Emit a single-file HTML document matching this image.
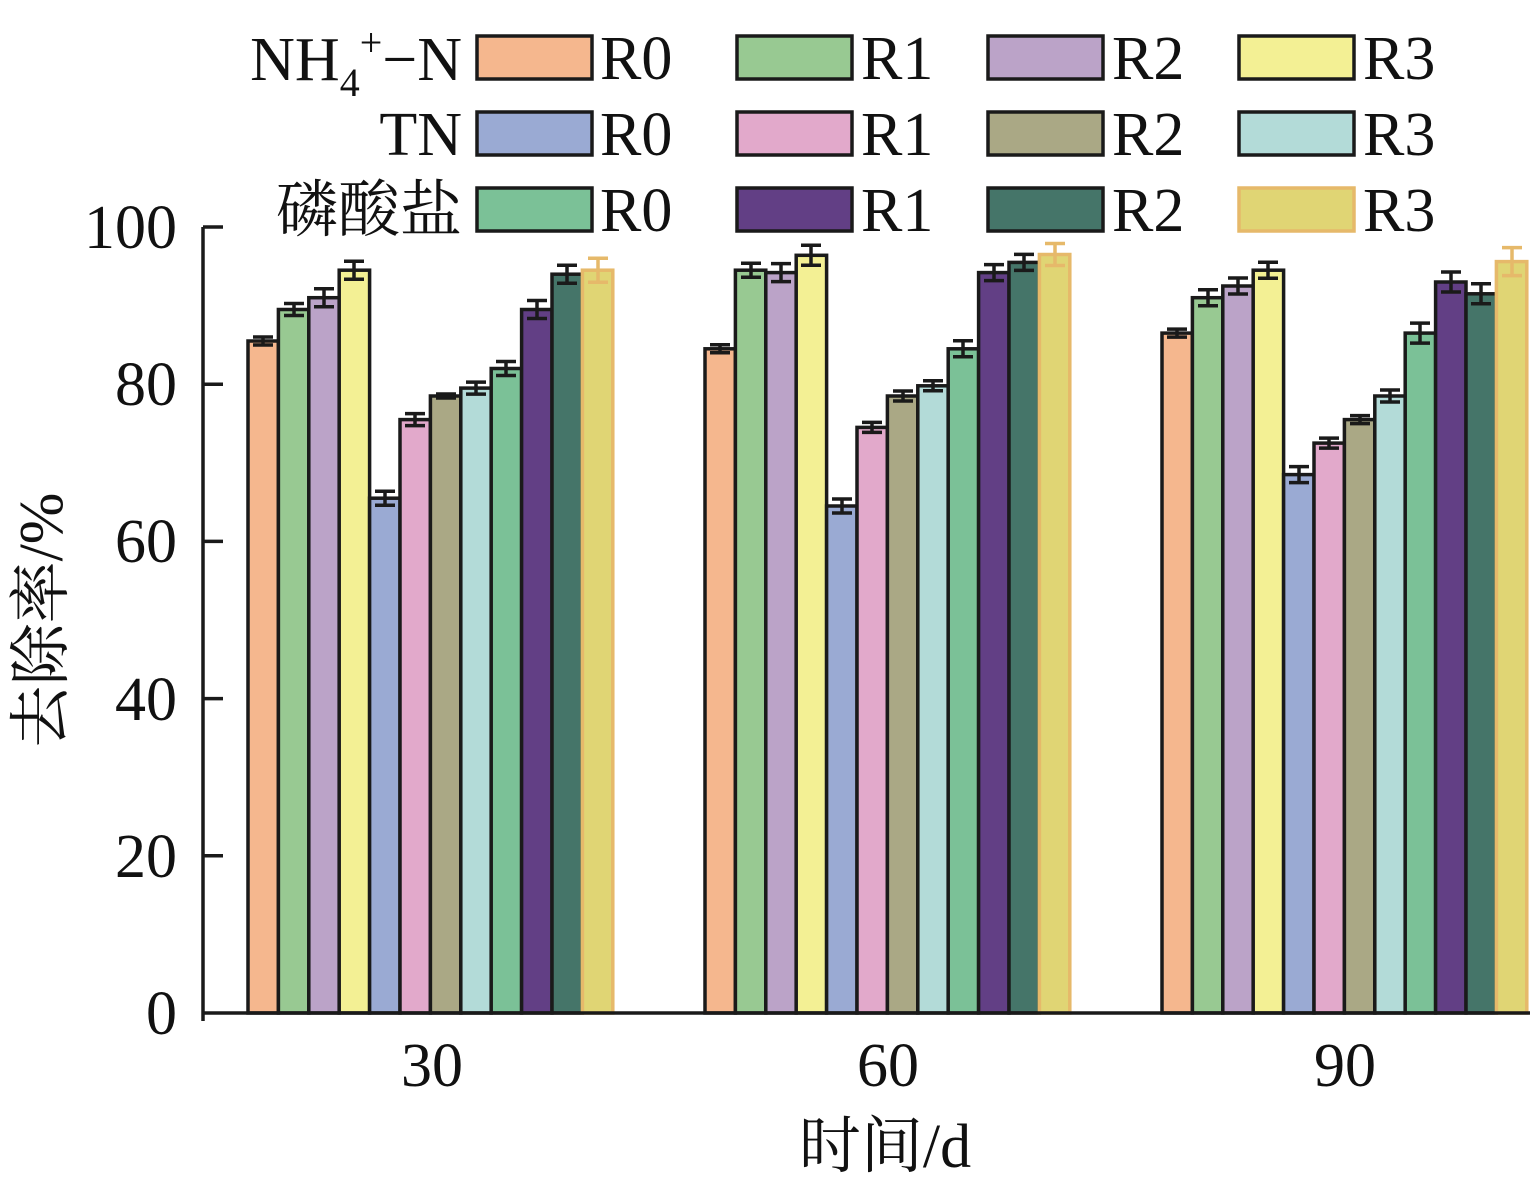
<!DOCTYPE html>
<html><head><meta charset="utf-8"><style>
html,body{margin:0;padding:0;background:#fff;}
svg text{font-family:"Liberation Serif","Noto Serif CJK SC",serif;fill:#111;}
</style></head><body>
<svg width="1530" height="1186" viewBox="0 0 1530 1186" xmlns="http://www.w3.org/2000/svg">
<g stroke="#1a1a1a" stroke-width="3.5">
<rect x="248" y="341" width="30.4" height="672" fill="#f5b78e"/>
<rect x="278.4" y="309.5" width="30.4" height="703.5" fill="#98c992"/>
<rect x="308.8" y="297.7" width="30.4" height="715.3" fill="#bba3c8"/>
<rect x="339.2" y="270.2" width="30.4" height="742.8" fill="#f3f094"/>
<rect x="369.6" y="498.2" width="30.4" height="514.8" fill="#9aaad3"/>
<rect x="400" y="419.6" width="30.4" height="593.4" fill="#e2a9cb"/>
<rect x="430.4" y="396" width="30.4" height="617" fill="#aaa885"/>
<rect x="460.8" y="388.1" width="30.4" height="624.9" fill="#b3dbd8"/>
<rect x="491.2" y="368.5" width="30.4" height="644.5" fill="#7bc197"/>
<rect x="521.6" y="309.5" width="30.4" height="703.5" fill="#623f85"/>
<rect x="552" y="274.2" width="30.4" height="738.8" fill="#457569"/>
<rect x="705" y="348.8" width="30.4" height="664.2" fill="#f5b78e"/>
<rect x="735.4" y="270.2" width="30.4" height="742.8" fill="#98c992"/>
<rect x="765.8" y="272.6" width="30.4" height="740.4" fill="#bba3c8"/>
<rect x="796.2" y="255.3" width="30.4" height="757.7" fill="#f3f094"/>
<rect x="826.6" y="506" width="30.4" height="507" fill="#9aaad3"/>
<rect x="857" y="427.4" width="30.4" height="585.6" fill="#e2a9cb"/>
<rect x="887.4" y="396" width="30.4" height="617" fill="#aaa885"/>
<rect x="917.8" y="385.8" width="30.4" height="627.2" fill="#b3dbd8"/>
<rect x="948.2" y="348.8" width="30.4" height="664.2" fill="#7bc197"/>
<rect x="978.6" y="272.6" width="30.4" height="740.4" fill="#623f85"/>
<rect x="1009" y="262.4" width="30.4" height="750.6" fill="#457569"/>
<rect x="1162" y="333.1" width="30.4" height="679.9" fill="#f5b78e"/>
<rect x="1192.4" y="297.7" width="30.4" height="715.3" fill="#98c992"/>
<rect x="1222.8" y="286" width="30.4" height="727" fill="#bba3c8"/>
<rect x="1253.2" y="270.2" width="30.4" height="742.8" fill="#f3f094"/>
<rect x="1283.6" y="474.6" width="30.4" height="538.4" fill="#9aaad3"/>
<rect x="1314" y="443.1" width="30.4" height="569.9" fill="#e2a9cb"/>
<rect x="1344.4" y="419.6" width="30.4" height="593.4" fill="#aaa885"/>
<rect x="1374.8" y="396" width="30.4" height="617" fill="#b3dbd8"/>
<rect x="1405.2" y="333.1" width="30.4" height="679.9" fill="#7bc197"/>
<rect x="1435.6" y="282" width="30.4" height="731" fill="#623f85"/>
<rect x="1466" y="293.8" width="30.4" height="719.2" fill="#457569"/>
<path fill="none" d="
M253 337h20M263 337v8M253 345h20
M284 303.5h20M294 303.5v12M284 315.5h20
M314 288.7h20M324 288.7v18M314 306.7h20
M344 261.2h20M354 261.2v18M344 279.2h20
M375 491.2h20M385 491.2v14M375 505.2h20
M405 413.6h20M415 413.6v12M405 425.6h20
M436 394h20M446 394v4M436 398h20
M466 382.1h20M476 382.1v12M466 394.1h20
M496 361.5h20M506 361.5v14M496 375.5h20
M527 300.5h20M537 300.5v18M527 318.5h20
M557 265.2h20M567 265.2v18M557 283.2h20
M710 344.8h20M720 344.8v8M710 352.8h20
M741 263.2h20M751 263.2v14M741 277.2h20
M771 263.6h20M781 263.6v18M771 281.6h20
M801 245.3h20M811 245.3v20M801 265.3h20
M832 499h20M842 499v14M832 513h20
M862 422.4h20M872 422.4v10M862 432.4h20
M893 391h20M903 391v10M893 401h20
M923 380.8h20M933 380.8v10M923 390.8h20
M953 340.8h20M963 340.8v16M953 356.8h20
M984 264.6h20M994 264.6v16M984 280.6h20
M1014 254.4h20M1024 254.4v16M1014 270.4h20
M1167 329.1h20M1177 329.1v8M1167 337.1h20
M1198 289.7h20M1208 289.7v16M1198 305.7h20
M1228 278h20M1238 278v16M1228 294h20
M1258 262.2h20M1268 262.2v16M1258 278.2h20
M1289 466.6h20M1299 466.6v16M1289 482.6h20
M1319 438.1h20M1329 438.1v10M1319 448.1h20
M1350 415.6h20M1360 415.6v8M1350 423.6h20
M1380 390h20M1390 390v12M1380 402h20
M1410 323.1h20M1420 323.1v20M1410 343.1h20
M1441 272h20M1451 272v20M1441 292h20
M1471 283.8h20M1481 283.8v20M1471 303.8h20"/>
</g>
<g stroke="#e6b96a" stroke-width="3.5">
<rect x="582.4" y="270.2" width="30.4" height="742.8" fill="#e0d574"/>
<rect x="1039.4" y="254.5" width="30.4" height="758.5" fill="#e0d574"/>
<rect x="1496.4" y="261.6" width="30.4" height="751.4" fill="#e0d574"/>
<path fill="none" d="M588 258.2h20M598 258.2v24M588 282.2h20
M1045 243.5h20M1055 243.5v22M1045 265.5h20
M1502 247.6h20M1512 247.6v28M1502 275.6h20"/>
</g>
<g stroke="#1a1a1a" stroke-width="3.5" fill="none">
<path d="M203 227V1021M203 1013H1530"/>
<path d="M203 227h20M203 384.2h20M203 541.4h20M203 698.6h20M203 855.8h20"/>
</g>
<g font-size="62" text-anchor="end">
<text x="177" y="1034">0</text>
<text x="177" y="877">20</text>
<text x="177" y="720">40</text>
<text x="177" y="562">60</text>
<text x="177" y="405">80</text>
<text x="177" y="248">100</text>
</g>
<g font-size="62" text-anchor="middle">
<text x="432" y="1086">30</text>
<text x="888" y="1086">60</text>
<text x="1345" y="1086">90</text>
<text x="885" y="1167">时间/d</text>
</g>
<text font-size="62" text-anchor="middle" transform="translate(62,620) rotate(-90)">去除率/%</text>
<g stroke="#1a1a1a" stroke-width="3.5">
<rect x="477" y="36" width="115" height="43" fill="#f5b78e"/>
<rect x="737" y="36" width="115" height="43" fill="#98c992"/>
<rect x="988" y="36" width="115" height="43" fill="#bba3c8"/>
<rect x="1239" y="36" width="115" height="43" fill="#f3f094"/>
<rect x="477" y="112" width="115" height="43" fill="#9aaad3"/>
<rect x="737" y="112" width="115" height="43" fill="#e2a9cb"/>
<rect x="988" y="112" width="115" height="43" fill="#aaa885"/>
<rect x="1239" y="112" width="115" height="43" fill="#b3dbd8"/>
<rect x="477" y="188" width="115" height="43" fill="#7bc197"/>
<rect x="737" y="188" width="115" height="43" fill="#623f85"/>
<rect x="988" y="188" width="115" height="43" fill="#457569"/>
</g>
<rect x="1239" y="188" width="115" height="43" fill="#e0d574" stroke="#e6b96a" stroke-width="3.5"/>
<g font-size="62">
<text x="600" y="79">R0</text><text x="861" y="79">R1</text><text x="1112" y="79">R2</text><text x="1363" y="79">R3</text>
<text x="600" y="155">R0</text><text x="861" y="155">R1</text><text x="1112" y="155">R2</text><text x="1363" y="155">R3</text>
<text x="600" y="231">R0</text><text x="861" y="231">R1</text><text x="1112" y="231">R2</text><text x="1363" y="231">R3</text>
</g>
<g font-size="62" text-anchor="end">
<text x="462" y="80">NH<tspan font-size="40" dy="16">4</tspan><tspan font-size="40" dy="-40">+</tspan><tspan dy="24">−N</tspan></text>
<text x="462" y="155">TN</text>
<text x="462" y="231">磷酸盐</text>
</g>
</svg>
</body></html>
